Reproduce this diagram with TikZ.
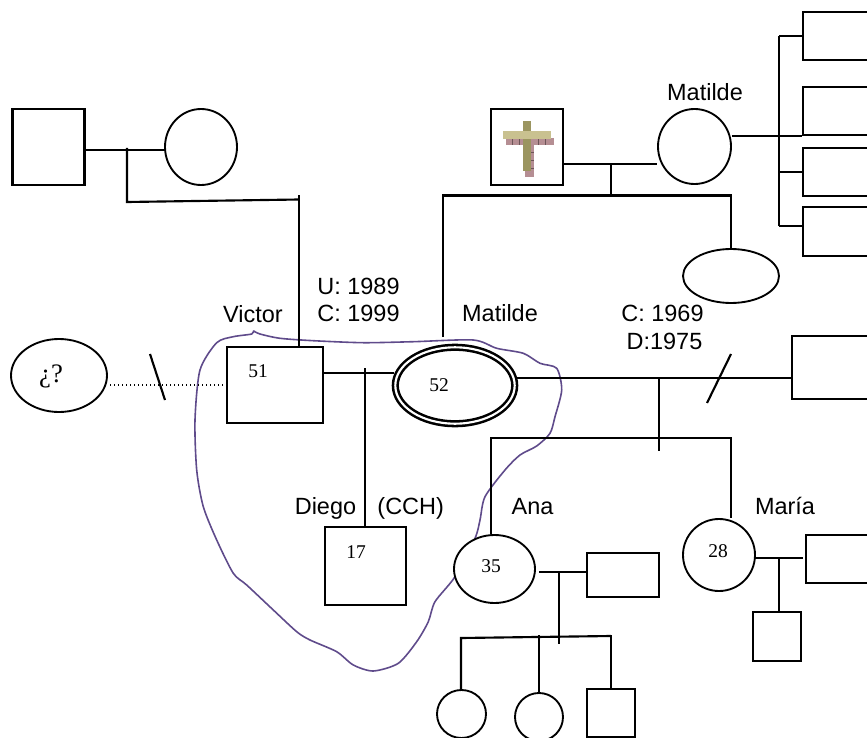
\documentclass[tikz,border=0pt]{standalone}
\usepackage{fontspec}
\setmainfont{Liberation Sans}
\newfontfamily\numfont{Liberation Serif}
\usetikzlibrary{shapes.geometric}

\definecolor{lasso}{HTML}{5F4B8B}
\definecolor{crossdark}{HTML}{9B9560}
\definecolor{crosslight}{HTML}{C9C190}
\definecolor{crosspink}{HTML}{B58E93}

\begin{document}
\begin{tikzpicture}[
    x=0.75pt, y=-0.75pt,
    wh/.style 2 args={minimum width=#1*0.75pt, minimum height=#2*0.75pt},
    male/.style={rectangle, draw, fill=white, line width=1.6pt, inner sep=0pt},
    female/.style={ellipse, draw, fill=white, line width=1.4pt, inner sep=0pt},
    link/.style={line width=1.6pt},
    lbl/.style={anchor=base, font=\fontsize{17.6}{20}\selectfont},
    age/.style={font=\fontsize{14.6}{17}\numfont}
]
  \useasboundingbox (0,0) rectangle (867,738);
  \clip (0,0) rectangle (867,738);

  % hand drawn loop round the household
  \draw[lasso, line width=1.2pt, line join=round] plot[smooth, tension=0.45] coordinates {
    (253.3,330.7) (260,334) (280,338.3) (313.3,340.7) (363.3,342.7) (413.3,341.7)
    (473.3,340) (496.7,348.3) (523.3,353.3) (540,363.3) (556.7,368.3) (561.7,390)
    (555,416.7) (550,433.3) (536.7,446) (520,455) (505,470) (485,496.7) (480,520)
    (475,538.3) (455,576.7) (435,601.7) (428.3,621.7) (416.7,641.7) (398.3,663.3)
    (373.3,671) (353.3,665) (336.7,651.7) (310,640) (296.7,631.7) (273.3,610)
    (246.7,585) (233.3,573.3) (216.7,540) (203.3,506.7) (196.7,470) (195,420)
    (200,370) (216.7,342.7) (233.3,336.7) (251.7,334) (253.3,330.7)};

  % top generation
  \node[male, wh={72}{76}] (gf) at (48.5,147) {};
  \node[female, wh={72}{76}] (gm) at (201,147) {};
  \node[male, wh={72}{76}] (dead) at (527,147) {};
  \node[female, wh={73}{75}] (mat) at (694.5,146.5) {};
  \node[female, wh={96}{54}] (aunt) at (731,276) {};

  % brothers on the right
  \node[male, wh={72}{48}] (sa) at (839,36) {};
  \node[male, wh={72}{48}] (sb) at (839,111) {};
  \node[male, wh={72}{48}] (sc) at (839,172) {};
  \node[male, wh={72}{49}] (sd) at (839,231.5) {};

  % cross in the box
  \fill[crosspink] (506,137.7) rectangle (554,145);
  \fill[crosspink] (525,145) rectangle (534,177);
  \foreach \tx in {512,519,538,545}
    \draw[crosspink!60!black, line width=0.4pt] (\tx,138) -- (\tx,145);
  \foreach \ty in {152,160,168}
    \draw[crosspink!60!black, line width=0.4pt] (531,\ty) -- (534,\ty);
  \fill[crossdark] (523,121) rectangle (531,171);
  \fill[crosslight] (503,131.3) rectangle (551,139.3);

  % middle generation
  \node[female, wh={96}{73}] (unk) at (59,375.5) {};
  \node[male, wh={96}{76}] (vic) at (275,385) {};
  \node[female, wh={119.4}{76.4}, double, double distance=1.6pt, line width=1.9pt] (wife) at (455,385.5) {};
  \node[male, wh={83}{63}] (ex) at (833.5,367.5) {};

  % children
  \node[male, wh={81}{78}] (die) at (365.5,566) {};
  \node[female, wh={81}{68}] (ana) at (494.5,569) {};
  \node[male, wh={72}{44}] (anah) at (623,575) {};
  \node[female, wh={72}{72}] (mar) at (719,555) {};
  \node[male, wh={69}{48}] (marh) at (840.5,559) {};
  \node[male, wh={48}{49}] (marc) at (777,636.5) {};

  % grandchildren
  \node[female, wh={49}{48}] (ka) at (461.5,714) {};
  \node[female, wh={48}{48}] (kb) at (539,717) {};
  \node[male, wh={48}{48}] (kc) at (611,713) {};

  % junctions
  \coordinate (gfj) at (127,150);
  \coordinate (gfc) at (127,202);
  \coordinate (vict) at (299,199.5);
  \coordinate (matj) at (611,164);
  \coordinate (matb) at (611,195.5);
  \coordinate (matl) at (443,195.5);
  \coordinate (matd) at (443,337);
  \coordinate (brj) at (779,136);
  \coordinate (brt) at (779,36);
  \coordinate (brb) at (779,226);
  \coordinate (vj) at (365,373);
  \coordinate (exj) at (659,378);
  \coordinate (exb) at (659,451);
  \coordinate (anal) at (491,438);
  \coordinate (maru) at (731,438);
  \coordinate (anaj) at (559,572);
  \coordinate (anas) at (539,572);
  \coordinate (anab) at (559,644);
  \coordinate (kl) at (461,638);
  \coordinate (kr) at (611,636);
  \coordinate (marj) at (779,558);
  \coordinate (mare) at (803,558);

  % couples and descent
  \draw[link] (gf.east |- gfj) -- (gm.west |- gfj);
  \draw[link] (127,148) -- (gfc) -- (vict);
  \draw[link] (299,195) -- (vic.north -| vict);
  \draw[link] (dead.east |- matj) -- (mat.west |- matj);
  \draw[link] (matj) -- (matb);
  \draw[link] (matd) -- (matl) -- (matl -| aunt.north) -- (aunt.north);
  \draw[link] (mat.east |- brj) -- (brj);
  \draw[link] (brt) -- (brb);
  \draw[link] (brt) -- (sa.west |- brt);
  \draw[link] (brt |- sb.south) -- (sb.west |- sb.south);
  \draw[link] (brt |- sc.west) -- (sc.west);
  \draw[link] (brb) -- (sd.west |- brb);
  \draw[link] (vic.east |- vj) -- (wife.west |- vj);
  \draw[link] (365,368) -- (die.north -| vj);
  \draw[link] (wife.east |- exj) -- (ex.west |- exj);
  \draw[link] (exj) -- (exb);
  \draw[link] (ana.north -| anal) -- (anal) -- (maru) -- (mar.north -| maru);
  \draw[link] (anas) -- (anah.west |- anas);
  \draw[link] (anaj) -- (anab);
  \draw[link] (ka.north -| kl) -- (kl) -- (kr);
  \draw[link] (kb.north) -- (539,635);
  \draw[link] (kc.north) -- (611,635);
  \draw[link] (mar.east |- marj) -- (mare);
  \draw[link] (marj) -- (marc.north -| marj);

  % separations
  \coordinate (dotl) at (110,385);
  \coordinate (sla) at (150,354);
  \coordinate (slb) at (165,400);
  \coordinate (slc) at (731,354);
  \coordinate (sld) at (707,403);
  \draw[line width=1pt, dotted] (dotl) -- (vic.west |- dotl);
  \draw[link] (sla) -- (slb);
  \draw[link] (slc) -- (sld);

  % labels
  \node[lbl] (lmat) at (705,101) {Matilde};
  \node[lbl] (lvic) at (253,322) {Victor};
  \node[lbl] (lu) at (358.5,294) {U: 1989};
  \node[lbl] (lc) at (358.5,321) {C: 1999};
  \node[lbl] (lwife) at (500,321) {Matilde};
  \node[lbl] (lca) at (662.5,321) {C: 1969};
  \node[lbl] (ld) at (664.5,349) {D:1975};
  \node[lbl] (ldie) at (325.5,514) {Diego};
  \node[lbl] (lcch) at (410.7,514) {(CCH)};
  \node[lbl] (lana) at (532.6,514) {Ana};
  \node[lbl] (lmar) at (785,514) {María};

  % ages
  \node[age] (a51) at (258,371) {51};
  \node[age] (a52) at (439,385) {52};
  \node[age] (a17) at (356,552) {17};
  \node[age] (a35) at (491,566) {35};
  \node[age] (a28) at (718,551) {28};
  \node[age, font=\fontsize{20}{22}\numfont] (aq) at (51,376) {¿?};
\end{tikzpicture}
\end{document}
